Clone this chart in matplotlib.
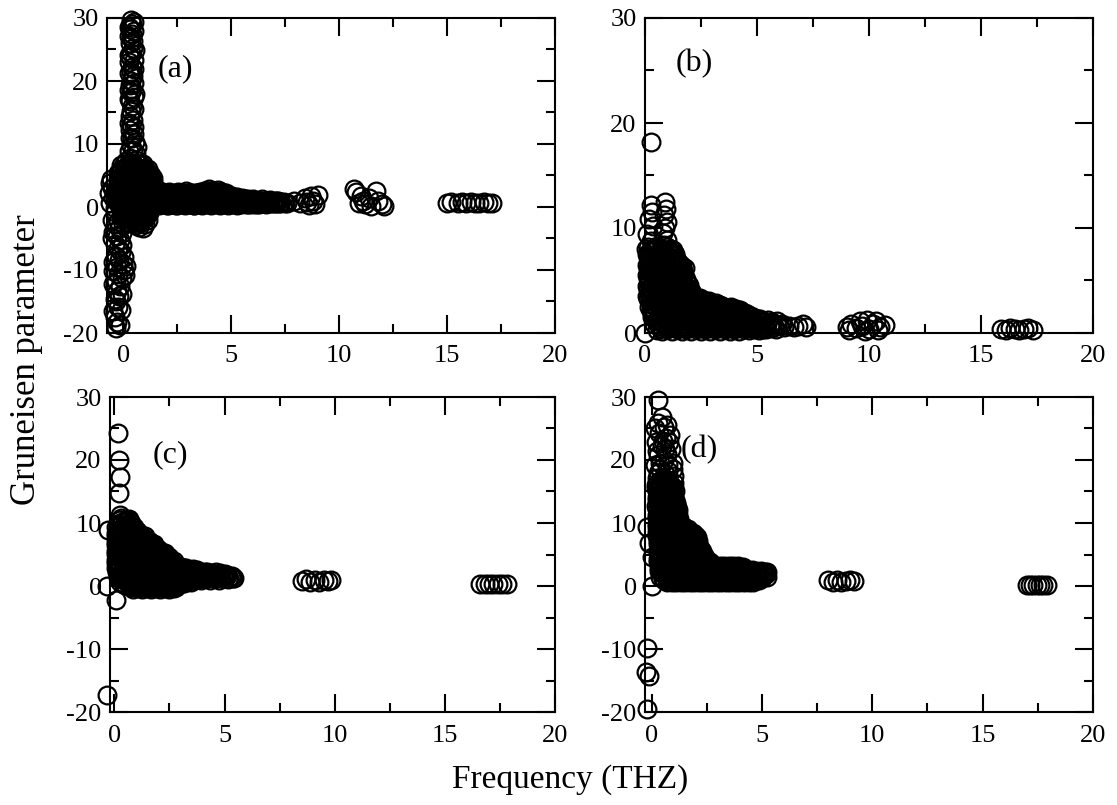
import matplotlib
matplotlib.use("Agg")
import matplotlib.pyplot as plt
from matplotlib.ticker import MultipleLocator

plt.rcParams['font.family'] = ['Liberation Serif', 'DejaVu Serif']
plt.rcParams['axes.unicode_minus'] = False

# ---------------- panel (a) ----------------
a_spike = [(0.35, 29.7), (0.40, 29.0), (0.33, 28.2), (0.42, 27.5), (0.36, 26.8), (0.30, 26.0),
           (0.44, 25.3), (0.38, 24.5), (0.32, 23.8), (0.28, 23.0), (0.40, 22.3), (0.35, 21.5),
           (0.45, 20.8), (0.38, 20.0), (0.30, 19.4), (0.42, 18.8), (0.36, 18.2), (0.48, 17.5),
           (0.33, 16.8), (0.40, 16.0), (0.36, 15.2), (0.30, 14.5), (0.44, 13.8), (0.38, 13.0),
           (0.32, 12.3), (0.50, 11.6), (0.40, 11.0), (0.55, 10.3), (0.35, 9.7), (0.45, 9.0),
           (0.60, 8.4), (0.30, 7.8),
           (0.52, 29.3), (0.28, 28.6), (0.50, 27.9), (0.26, 27.1), (0.47, 26.3), (0.55, 24.9),
           (0.25, 24.1), (0.48, 23.3), (0.52, 21.9), (0.27, 21.2), (0.50, 19.7), (0.26, 18.5),
           (0.55, 17.9), (0.28, 17.1), (0.50, 15.6), (0.27, 13.4), (0.52, 12.7), (0.30, 10.9),
           (0.62, 9.5), (0.28, 8.9)]
a_neg = [(-0.35, -19.2), (-0.30, -18.3), (-0.40, -17.5), (-0.25, -15.8), (-0.35, -15.0),
         (-0.20, -14.2), (-0.30, -13.3), (-0.15, -12.6), (-0.35, -11.8), (-0.05, -11.2),
         (-0.25, -10.6), (0.05, -10.0), (-0.30, -9.5), (0.00, -9.0), (-0.20, -8.4),
         (-0.35, -7.8), (-0.10, -7.2), (-0.25, -6.5), (-0.40, -5.9), (-0.15, -5.3),
         (-0.30, -4.6), (-0.45, -4.0), (-0.20, -3.4), (-0.35, -2.7), (-0.50, -2.0),
         (-0.10, -1.5), (-0.40, -0.8),
         (-0.15, -18.8), (-0.45, -16.5), (-0.10, -16.4), (-0.40, -14.6), (-0.05, -13.8),
         (-0.45, -12.2), (0.10, -10.8), (-0.45, -10.1), (0.12, -9.3), (-0.45, -8.8),
         (0.05, -8.0), (-0.05, -6.0), (-0.50, -5.0), (-0.05, -4.1), (0.00, -2.8),
         (-0.25, -2.2)]
a_left = [(-0.60, 3.8), (-0.50, 3.0), (-0.65, 2.2), (-0.45, 1.4), (-0.60, 0.6),
          (-0.40, -0.2), (-0.55, 4.4), (-0.30, 2.6), (-0.35, 0.9)]
a_body = [(0.12, 7.3), (0.34, 7.0), (0.58, 7.4), (0.79, 6.9),
          (-0.08, 6.6), (0.15, 6.3), (0.37, 6.7), (0.61, 6.4), (0.83, 6.6), (1.02, 6.2),
          (-0.17, 5.7), (0.04, 6.0), (0.27, 5.6), (0.48, 5.9), (0.71, 5.7), (0.93, 5.9),
          (1.12, 5.5),
          (-0.21, 5.2), (0.01, 4.9), (0.22, 5.3), (0.45, 5.0), (0.66, 5.2), (0.88, 4.9),
          (1.09, 5.3), (1.28, 5.0),
          (-0.26, 4.5), (-0.05, 4.2), (0.17, 4.6), (0.39, 4.3), (0.60, 4.5), (0.82, 4.2),
          (1.03, 4.6), (1.24, 4.3),
          (-0.22, 3.6), (0.00, 3.9), (0.21, 3.5), (0.43, 3.8), (0.64, 3.6), (0.86, 3.9),
          (1.07, 3.5), (1.29, 3.8), (1.45, 3.4),
          (-0.27, 3.1), (-0.06, 2.8), (0.16, 3.2), (0.38, 2.9), (0.59, 3.1), (0.80, 2.8),
          (1.01, 3.2), (1.22, 2.9), (1.42, 3.1),
          (-0.24, 2.2), (-0.02, 2.5), (0.19, 2.1), (0.41, 2.4), (0.62, 2.2), (0.84, 2.5),
          (1.05, 2.1), (1.27, 2.4), (1.47, 2.2),
          (-0.28, 1.7), (-0.07, 1.4), (0.14, 1.8), (0.36, 1.5), (0.57, 1.7), (0.78, 1.4),
          (0.99, 1.8), (1.21, 1.5), (1.41, 1.7),
          (-0.23, 0.8), (-0.01, 1.1), (0.20, 0.7), (0.42, 1.0), (0.63, 0.8), (0.85, 1.1),
          (1.06, 0.7), (1.28, 1.0),
          (-0.18, 0.3), (0.04, 0.0), (0.25, 0.4), (0.47, 0.1), (0.68, 0.3), (0.90, 0.0),
          (1.11, 0.4), (1.32, 0.1),
          (-0.12, -0.4), (0.09, -0.7), (0.31, -0.3), (0.52, -0.6), (0.74, -0.4), (0.95, -0.7),
          (1.17, -0.3),
          (-0.05, -1.1), (0.17, -1.4), (0.38, -1.0), (0.60, -1.3), (0.81, -1.1), (1.03, -1.4),
          (1.21, -1.0),
          (0.10, -1.8), (0.32, -2.1), (0.53, -1.7), (0.75, -2.0), (0.96, -1.8), (1.15, -2.1),
          (0.36, -2.5), (0.58, -2.8), (0.80, -2.5), (1.00, -2.7),
          (0.72, -3.1), (0.90, -3.3)]
a_body_fill = [(0.02, 6.9), (0.24, 6.8), (0.47, 7.0), (0.69, 6.8), (0.90, 6.9),
               (-0.12, 6.1), (0.10, 6.2), (0.31, 6.0), (0.54, 6.2), (0.76, 6.0), (0.98, 6.1),
               (1.15, 6.0),
               (-0.22, 5.4), (0.12, 5.5), (0.35, 5.3), (0.57, 5.5), (0.79, 5.3), (1.00, 5.5),
               (1.20, 5.3),
               (-0.10, 4.8), (0.11, 4.6), (0.33, 4.8), (0.55, 4.6), (0.77, 4.8), (0.98, 4.6),
               (1.19, 4.8), (1.36, 4.6),
               (-0.15, 4.0), (0.07, 3.9), (0.29, 4.1), (0.51, 3.9), (0.73, 4.1), (0.94, 3.9),
               (1.15, 4.1), (1.36, 4.0),
               (-0.12, 3.4), (0.10, 3.3), (0.32, 3.5), (0.54, 3.3), (0.76, 3.4), (0.97, 3.2),
               (1.18, 3.4), (1.38, 3.3),
               (-0.16, 2.7), (0.06, 2.6), (0.28, 2.8), (0.50, 2.6), (0.72, 2.7), (0.93, 2.6),
               (1.15, 2.7), (1.36, 2.6),
               (-0.13, 2.0), (0.09, 1.9), (0.30, 2.0), (0.52, 1.9), (0.73, 2.1), (0.95, 1.9),
               (1.16, 2.0), (1.37, 1.9),
               (-0.17, 1.3), (0.04, 1.2), (0.26, 1.3), (0.47, 1.2), (0.69, 1.4), (0.90, 1.2),
               (1.12, 1.3), (1.33, 1.2),
               (-0.08, 0.6), (0.14, 0.5), (0.35, 0.6), (0.57, 0.5), (0.78, 0.6), (1.00, 0.5),
               (1.21, 0.6),
               (-0.02, -0.1), (0.20, -0.2), (0.41, -0.1), (0.63, -0.2), (0.84, -0.1),
               (1.06, -0.2), (1.25, -0.1),
               (0.05, -0.9), (0.26, -0.8), (0.48, -0.9), (0.69, -0.8), (0.91, -0.9), (1.10, -0.8),
               (0.22, -1.6), (0.44, -1.5), (0.65, -1.6), (0.87, -1.5), (1.07, -1.6),
               (0.45, -2.3), (0.67, -2.2), (0.88, -2.3)]
a_band = [(1.52, 2.3), (1.71, 2.5), (1.92, 2.2), (2.11, 2.4), (2.33, 2.1), (2.52, 2.4),
          (2.74, 2.2), (2.93, 2.5), (3.15, 2.3), (3.34, 2.1), (3.56, 2.4), (3.75, 2.6),
          (3.96, 2.8), (4.15, 2.6), (4.37, 2.7), (4.56, 2.4), (4.78, 2.2),
          (1.58, 1.7), (1.79, 1.5), (1.98, 1.8), (2.20, 1.6), (2.39, 1.9), (2.61, 1.6),
          (2.80, 1.8), (3.02, 1.5), (3.21, 1.8), (3.43, 1.6), (3.62, 1.9), (3.84, 1.7),
          (4.03, 2.0), (4.25, 1.8), (4.44, 1.9), (4.66, 1.6), (4.85, 1.8), (5.07, 1.5),
          (5.26, 1.6), (5.48, 1.4),
          (1.50, 1.0), (1.70, 1.2), (1.91, 0.9), (2.12, 1.1), (2.31, 0.9), (2.53, 1.2),
          (2.72, 1.0), (2.94, 1.2), (3.13, 0.9), (3.35, 1.1), (3.54, 1.3), (3.76, 1.0),
          (3.95, 1.2), (4.17, 1.1), (4.36, 1.3), (4.58, 1.0), (4.77, 1.2), (4.99, 0.9),
          (5.18, 1.1), (5.40, 1.0), (5.59, 1.2), (5.81, 0.9), (6.00, 1.1), (6.22, 1.0),
          (6.41, 1.2), (6.63, 1.0), (6.82, 1.1), (7.04, 1.0),
          (1.62, 0.4), (1.83, 0.6), (2.03, 0.3), (2.24, 0.5), (2.45, 0.3), (2.65, 0.6),
          (2.86, 0.4), (3.07, 0.5), (3.28, 0.3), (3.48, 0.6), (3.69, 0.4), (3.90, 0.6),
          (4.11, 0.5), (4.31, 0.7), (4.52, 0.4), (4.73, 0.6), (4.94, 0.5), (5.14, 0.7),
          (5.35, 0.5), (5.56, 0.6), (5.77, 0.4), (5.97, 0.6), (6.18, 0.5), (6.39, 0.7),
          (6.60, 0.5), (6.80, 0.6), (7.01, 0.7), (7.22, 0.6), (7.43, 0.8), (7.60, 0.7)]
a_band_fill = [(1.62, 2.0), (1.82, 2.1), (2.02, 1.9), (2.22, 2.1), (2.42, 2.0), (2.62, 2.1),
               (2.82, 1.9), (3.02, 2.1), (3.22, 2.0), (3.42, 2.2), (3.62, 2.1), (3.82, 2.3),
               (4.02, 2.2), (4.22, 2.3), (4.42, 2.1), (4.62, 2.0), (4.82, 1.9), (5.02, 1.8),
               (1.60, 1.4), (1.80, 1.3), (2.00, 1.4), (2.20, 1.3), (2.40, 1.4), (2.60, 1.3),
               (2.80, 1.4), (3.00, 1.3), (3.20, 1.4), (3.40, 1.3), (3.60, 1.5), (3.80, 1.4),
               (4.00, 1.5), (4.20, 1.4), (4.40, 1.5), (4.60, 1.4), (4.80, 1.4), (5.00, 1.3),
               (5.20, 1.3), (5.40, 1.3), (5.60, 1.2), (5.80, 1.2), (6.00, 1.3),
               (1.72, 0.8), (1.92, 0.7), (2.12, 0.8), (2.32, 0.7), (2.52, 0.8), (2.72, 0.7),
               (2.92, 0.8), (3.12, 0.7), (3.32, 0.8), (3.52, 0.7), (3.72, 0.8), (3.92, 0.9),
               (4.12, 0.8), (4.32, 0.9), (4.52, 0.8), (4.72, 0.9), (4.92, 0.8), (5.12, 0.9),
               (5.32, 0.8), (5.52, 0.9), (5.72, 0.8), (5.92, 0.9), (6.12, 0.8), (6.32, 0.9),
               (6.52, 0.8), (6.72, 0.9), (6.92, 0.8), (7.12, 0.9), (7.32, 0.8),
               (1.57, 2.2), (1.77, 2.3), (1.97, 2.1), (2.17, 2.3), (2.37, 2.2), (2.57, 2.3),
               (2.77, 2.1), (2.97, 2.3), (3.17, 2.2), (3.37, 2.3), (3.57, 2.2), (3.77, 2.4),
               (3.97, 2.5), (4.17, 2.4), (4.37, 2.4), (4.57, 2.2),
               (1.66, 1.6), (1.86, 1.5), (2.06, 1.6), (2.26, 1.5), (2.46, 1.6), (2.66, 1.5),
               (2.86, 1.6), (3.06, 1.5), (3.26, 1.6), (3.46, 1.5), (3.66, 1.7), (3.86, 1.6),
               (4.06, 1.7), (4.26, 1.6), (4.46, 1.7), (4.66, 1.5), (4.86, 1.6), (5.06, 1.4),
               (5.26, 1.4), (5.46, 1.3), (5.66, 1.3),
               (1.55, 0.9), (1.76, 0.8), (1.96, 0.9), (2.16, 0.8), (2.36, 0.9), (2.56, 0.8),
               (2.76, 0.9), (2.96, 0.8), (3.16, 0.9), (3.36, 0.8), (3.56, 0.9), (3.76, 0.8),
               (3.96, 0.9), (4.16, 0.8), (4.36, 0.9), (4.56, 0.8), (4.76, 0.9), (4.96, 0.8),
               (5.16, 0.9), (5.36, 0.8), (5.56, 0.9), (5.76, 0.8), (5.96, 0.9), (6.16, 0.8),
               (6.36, 0.9), (6.56, 0.8), (6.76, 0.9), (6.96, 0.8), (7.16, 0.9),
               (1.67, 0.3), (1.87, 0.4), (2.07, 0.3), (2.27, 0.4), (2.47, 0.3), (2.67, 0.4),
               (2.87, 0.3), (3.07, 0.4), (3.27, 0.3), (3.47, 0.4), (3.67, 0.3), (3.87, 0.4),
               (4.07, 0.3), (4.27, 0.4), (4.47, 0.3), (4.67, 0.4), (4.87, 0.3), (5.07, 0.4),
               (5.27, 0.3), (5.47, 0.4), (5.67, 0.5), (5.87, 0.4), (6.07, 0.5), (6.27, 0.5),
               (6.47, 0.6), (6.67, 0.6), (6.87, 0.6), (7.07, 0.6), (7.27, 0.7), (7.50, 0.7)]
a_high = [(7.9, 1.0), (8.2, 0.6), (8.4, 1.4), (8.6, 0.3), (8.7, 1.8), (8.8, 0.9), (9.0, 1.9),
          (8.5, 0.8), (8.9, 0.4),
          (10.7, 2.9), (10.8, 2.4), (11.0, 1.8), (11.1, 0.9), (11.2, 0.4), (11.4, 1.4),
          (11.5, 0.2), (11.7, 2.6), (11.8, 1.0), (12.0, 0.4), (12.1, 0.1), (10.9, 0.6),
          (15.0, 0.7), (15.2, 0.8), (15.5, 0.7), (15.7, 0.8), (15.9, 0.7), (16.1, 0.8),
          (16.3, 0.7), (16.5, 0.7), (16.7, 0.8), (16.9, 0.7), (17.1, 0.7)]

# ---------------- panel (b) ----------------
b_spike = [(0.25, 18.2), (0.0, 0.0),
           (0.25, 12.2), (0.30, 11.5), (0.20, 10.9), (0.35, 10.2), (0.10, 9.4), (0.25, 8.8),
           (0.05, 8.0), (0.90, 12.5), (0.95, 11.8), (0.85, 11.2), (1.00, 10.6), (0.90, 10.0),
           (0.80, 9.5), (1.00, 8.9), (0.85, 8.4), (1.70, 5.9)]
b_body = [(0.12, 8.2), (0.33, 8.0), (0.55, 8.3), (0.76, 8.0), (0.98, 8.2), (1.18, 8.0),
          (0.08, 7.5), (0.29, 7.7), (0.51, 7.5), (0.72, 7.7), (0.94, 7.5), (1.15, 7.7),
          (1.33, 7.5),
          (0.13, 7.2), (0.35, 7.0), (0.56, 7.2), (0.78, 7.0), (0.99, 7.2), (1.21, 7.0),
          (1.40, 7.1),
          (0.07, 6.5), (0.28, 6.7), (0.50, 6.5), (0.71, 6.7), (0.93, 6.5), (1.14, 6.7),
          (1.36, 6.5), (1.55, 6.6),
          (0.12, 6.2), (0.34, 6.0), (0.55, 6.2), (0.77, 6.0), (0.98, 6.2), (1.20, 6.0),
          (1.41, 6.2), (1.62, 6.0), (1.78, 6.2),
          (0.08, 5.5), (0.29, 5.7), (0.51, 5.5), (0.72, 5.7), (0.94, 5.5), (1.15, 5.7),
          (1.37, 5.5), (1.58, 5.7), (1.75, 5.5),
          (0.13, 5.2), (0.35, 5.0), (0.56, 5.2), (0.78, 5.0), (0.99, 5.2), (1.21, 5.0),
          (1.42, 5.2), (1.63, 5.0), (1.82, 5.1),
          (0.09, 4.5), (0.30, 4.7), (0.52, 4.5), (0.73, 4.7), (0.95, 4.5), (1.16, 4.7),
          (1.38, 4.5), (1.59, 4.7), (1.80, 4.5), (1.96, 4.6),
          (0.14, 4.2), (0.36, 4.0), (0.57, 4.2), (0.79, 4.0), (1.00, 4.2), (1.22, 4.0),
          (1.43, 4.2), (1.65, 4.0), (1.86, 4.2), (2.05, 4.0),
          (0.10, 3.5), (0.31, 3.7), (0.53, 3.5), (0.74, 3.7), (0.96, 3.5), (1.17, 3.7),
          (1.39, 3.5), (1.60, 3.7), (1.82, 3.5), (2.03, 3.7), (2.24, 3.4), (2.45, 3.3),
          (0.15, 3.2), (0.37, 3.0), (0.58, 3.2), (0.80, 3.0), (1.01, 3.2), (1.23, 3.0),
          (1.44, 3.2), (1.66, 3.0), (1.87, 3.2), (2.09, 3.0), (2.30, 3.1), (2.52, 2.9),
          (2.73, 3.0), (2.95, 2.8), (3.15, 2.9), (3.35, 2.7),
          (0.20, 2.5), (0.41, 2.7), (0.63, 2.5), (0.84, 2.7), (1.06, 2.5), (1.27, 2.7),
          (1.49, 2.5), (1.70, 2.7), (1.92, 2.5), (2.13, 2.7), (2.35, 2.5), (2.56, 2.6),
          (2.78, 2.4), (2.99, 2.6), (3.21, 2.4), (3.42, 2.6), (3.64, 2.4), (3.85, 2.5),
          (4.05, 2.3), (4.25, 2.2),
          (0.25, 2.1), (0.46, 1.9), (0.68, 2.1), (0.89, 1.9), (1.11, 2.1), (1.32, 1.9),
          (1.54, 2.1), (1.75, 1.9), (1.97, 2.1), (2.18, 1.9), (2.40, 2.1), (2.61, 1.9),
          (2.83, 2.0), (3.04, 1.8), (3.26, 2.0), (3.47, 1.8), (3.69, 2.0), (3.90, 1.8),
          (4.12, 1.9), (4.33, 1.7), (4.55, 1.8), (4.75, 1.6),
          (0.32, 1.5), (0.53, 1.3), (0.75, 1.5), (0.96, 1.3), (1.18, 1.5), (1.39, 1.3),
          (1.61, 1.5), (1.82, 1.3), (2.04, 1.5), (2.25, 1.3), (2.47, 1.5), (2.68, 1.3),
          (2.90, 1.4), (3.11, 1.2), (3.33, 1.4), (3.54, 1.2), (3.76, 1.4), (3.97, 1.2),
          (4.19, 1.4), (4.40, 1.2), (4.62, 1.3), (4.83, 1.1), (5.05, 1.3), (5.26, 1.1),
          (5.48, 1.2), (5.69, 1.0), (5.90, 1.1),
          (0.40, 0.9), (0.61, 0.7), (0.83, 0.9), (1.04, 0.7), (1.26, 0.9), (1.47, 0.7),
          (1.69, 0.9), (1.90, 0.7), (2.12, 0.9), (2.33, 0.7), (2.55, 0.9), (2.76, 0.7),
          (2.98, 0.9), (3.19, 0.7), (3.41, 0.9), (3.62, 0.7), (3.84, 0.9), (4.05, 0.7),
          (4.27, 0.9), (4.48, 0.7), (4.70, 0.9), (4.91, 0.7), (5.13, 0.8), (5.34, 0.6),
          (5.56, 0.8), (5.77, 0.6), (5.99, 0.8), (6.20, 0.6), (6.42, 0.7), (6.63, 0.6),
          (6.85, 0.7), (7.05, 0.9), (7.20, 0.6),
          (0.55, 0.3), (0.77, 0.2), (0.98, 0.4), (1.20, 0.2), (1.41, 0.4), (1.63, 0.2),
          (1.84, 0.4), (2.06, 0.2), (2.27, 0.4), (2.49, 0.2), (2.70, 0.4), (2.92, 0.2),
          (3.13, 0.4), (3.35, 0.2), (3.56, 0.4), (3.78, 0.2), (3.99, 0.4), (4.21, 0.2),
          (4.42, 0.4), (4.64, 0.3), (4.85, 0.4), (5.07, 0.3), (5.28, 0.4)]
b_body_fill = [(0.22, 7.8), (0.44, 7.9), (0.65, 7.8), (0.87, 7.9), (1.08, 7.8), (1.26, 7.9),
               (0.18, 7.3), (0.40, 7.4), (0.61, 7.3), (0.83, 7.4), (1.04, 7.3), (1.25, 7.4),
               (0.20, 6.8), (0.42, 6.9), (0.63, 6.8), (0.85, 6.9), (1.06, 6.8), (1.27, 6.9),
               (1.47, 6.8),
               (0.18, 6.3), (0.40, 6.4), (0.61, 6.3), (0.83, 6.4), (1.04, 6.3), (1.25, 6.4),
               (1.47, 6.3), (1.66, 6.4),
               (0.20, 5.8), (0.42, 5.9), (0.63, 5.8), (0.85, 5.9), (1.06, 5.8), (1.27, 5.9),
               (1.49, 5.8), (1.68, 5.9),
               (0.18, 5.3), (0.40, 5.4), (0.61, 5.3), (0.83, 5.4), (1.04, 5.3), (1.25, 5.4),
               (1.47, 5.3), (1.68, 5.4),
               (0.20, 4.8), (0.42, 4.9), (0.63, 4.8), (0.85, 4.9), (1.06, 4.8), (1.27, 4.9),
               (1.49, 4.8), (1.70, 4.9), (1.88, 4.8),
               (0.22, 4.3), (0.44, 4.4), (0.65, 4.3), (0.87, 4.4), (1.08, 4.3), (1.29, 4.4),
               (1.51, 4.3), (1.72, 4.4), (1.93, 4.3),
               (0.20, 3.8), (0.42, 3.9), (0.63, 3.8), (0.85, 3.9), (1.06, 3.8), (1.27, 3.9),
               (1.49, 3.8), (1.70, 3.9), (1.92, 3.8), (2.12, 3.8),
               (0.22, 3.3), (0.44, 3.4), (0.65, 3.3), (0.87, 3.4), (1.08, 3.3), (1.29, 3.4),
               (1.51, 3.3), (1.72, 3.4), (1.94, 3.3), (2.15, 3.4), (2.36, 3.2), (2.60, 3.1),
               (2.85, 3.0),
               (0.27, 2.8), (0.49, 2.9), (0.70, 2.8), (0.92, 2.9), (1.13, 2.8), (1.34, 2.9),
               (1.56, 2.8), (1.77, 2.9), (1.99, 2.8), (2.20, 2.9), (2.42, 2.7), (2.63, 2.8),
               (2.85, 2.6), (3.06, 2.7), (3.28, 2.5), (3.50, 2.5), (3.75, 2.4),
               (0.33, 2.3), (0.54, 2.2), (0.76, 2.3), (0.97, 2.2), (1.19, 2.3), (1.40, 2.2),
               (1.62, 2.3), (1.83, 2.2), (2.05, 2.3), (2.26, 2.2), (2.48, 2.3), (2.69, 2.2),
               (2.91, 2.2), (3.12, 2.1), (3.34, 2.2), (3.55, 2.1), (3.77, 2.1), (3.98, 2.0),
               (4.20, 2.0), (4.45, 1.9),
               (0.40, 1.7), (0.61, 1.6), (0.83, 1.7), (1.04, 1.6), (1.26, 1.7), (1.47, 1.6),
               (1.69, 1.7), (1.90, 1.6), (2.12, 1.7), (2.33, 1.6), (2.55, 1.7), (2.76, 1.6),
               (2.98, 1.6), (3.19, 1.5), (3.41, 1.6), (3.62, 1.5), (3.84, 1.6), (4.05, 1.5),
               (4.27, 1.5), (4.48, 1.4), (4.70, 1.5), (4.92, 1.4), (5.15, 1.3),
               (0.50, 1.1), (0.72, 1.0), (0.93, 1.1), (1.15, 1.0), (1.36, 1.1), (1.58, 1.0),
               (1.79, 1.1), (2.01, 1.0), (2.22, 1.1), (2.44, 1.0), (2.65, 1.1), (2.87, 1.0),
               (3.08, 1.1), (3.30, 1.0), (3.51, 1.1), (3.73, 1.0), (3.94, 1.0), (4.16, 0.9),
               (4.37, 1.0), (4.59, 0.9), (4.80, 1.0), (5.02, 0.9), (5.23, 1.0), (5.45, 0.9),
               (5.66, 0.9), (5.88, 0.8), (6.10, 0.9),
               (0.66, 0.5), (0.88, 0.6), (1.09, 0.5), (1.31, 0.6), (1.52, 0.5), (1.74, 0.6),
               (1.95, 0.5), (2.17, 0.6), (2.38, 0.5), (2.60, 0.6), (2.81, 0.5), (3.03, 0.6),
               (3.24, 0.5), (3.46, 0.6), (3.67, 0.5), (3.89, 0.6), (4.10, 0.5), (4.32, 0.6),
               (4.53, 0.5), (4.75, 0.6), (4.96, 0.5), (5.18, 0.5), (5.40, 0.4), (5.62, 0.5),
               (5.85, 0.4)]
b_high = [(9.0, 0.6), (9.2, 0.9), (9.4, 0.5), (9.6, 1.1), (9.7, 0.7), (9.9, 1.2), (10.0, 0.4),
          (10.2, 0.9), (10.3, 1.1), (10.5, 0.6), (10.7, 0.8), (9.1, 0.3), (9.8, 0.2),
          (10.4, 0.3),
          (15.9, 0.4), (16.1, 0.3), (16.3, 0.5), (16.5, 0.4), (16.7, 0.3), (16.9, 0.4),
          (17.1, 0.5), (17.3, 0.3)]

# ---------------- panel (c) ----------------
c_spike = [(0.15, 24.3), (0.20, 20.0), (0.25, 17.3), (0.20, 14.8), (0.25, 11.3),
           (-0.30, 8.9), (-0.35, 0.0), (0.05, -2.2), (-0.35, -17.3)]
c_body = [(0.32, 10.8), (0.52, 10.5), (0.68, 10.7),
          (0.15, 9.9), (0.36, 10.1), (0.57, 9.8), (0.77, 10.0),
          (0.08, 9.3), (0.28, 9.1), (0.49, 9.4), (0.70, 9.1), (0.90, 9.3),
          (0.06, 8.4), (0.26, 8.6), (0.47, 8.4), (0.67, 8.6), (0.88, 8.4), (1.08, 8.5),
          (0.05, 7.9), (0.25, 7.7), (0.46, 7.9), (0.66, 7.7), (0.87, 7.9), (1.07, 7.7),
          (1.28, 7.8), (1.47, 7.3),
          (0.07, 7.0), (0.27, 7.2), (0.48, 7.0), (0.68, 7.2), (0.89, 7.0), (1.09, 7.2),
          (1.30, 7.0), (1.50, 7.1), (1.68, 6.8),
          (0.05, 6.5), (0.25, 6.3), (0.46, 6.5), (0.66, 6.3), (0.87, 6.5), (1.07, 6.3),
          (1.28, 6.5), (1.48, 6.3), (1.69, 6.4), (1.88, 6.1),
          (0.07, 5.6), (0.27, 5.8), (0.48, 5.6), (0.68, 5.8), (0.89, 5.6), (1.09, 5.8),
          (1.30, 5.6), (1.50, 5.8), (1.71, 5.6), (1.91, 5.7), (2.10, 5.4), (2.30, 5.3),
          (0.05, 5.1), (0.25, 4.9), (0.46, 5.1), (0.66, 4.9), (0.87, 5.1), (1.07, 4.9),
          (1.28, 5.1), (1.48, 4.9), (1.69, 5.1), (1.89, 4.9), (2.10, 5.0), (2.30, 4.8),
          (2.48, 4.6),
          (0.07, 4.2), (0.27, 4.4), (0.48, 4.2), (0.68, 4.4), (0.89, 4.2), (1.09, 4.4),
          (1.30, 4.2), (1.50, 4.4), (1.71, 4.2), (1.91, 4.4), (2.12, 4.2), (2.32, 4.3),
          (2.53, 4.1), (2.70, 3.9),
          (0.05, 3.7), (0.25, 3.5), (0.46, 3.7), (0.66, 3.5), (0.87, 3.7), (1.07, 3.5),
          (1.28, 3.7), (1.48, 3.5), (1.69, 3.7), (1.89, 3.5), (2.10, 3.7), (2.30, 3.5),
          (2.51, 3.6), (2.71, 3.4), (2.90, 3.2),
          (0.07, 2.8), (0.27, 3.0), (0.48, 2.8), (0.68, 3.0), (0.89, 2.8), (1.09, 3.0),
          (1.30, 2.8), (1.50, 3.0), (1.71, 2.8), (1.91, 3.0), (2.12, 2.8), (2.32, 3.0),
          (2.53, 2.8), (2.73, 2.9), (2.94, 2.7), (3.14, 2.8), (3.35, 2.6), (3.55, 2.7),
          (3.76, 2.5),
          (0.10, 2.3), (0.30, 2.1), (0.51, 2.3), (0.71, 2.1), (0.92, 2.3), (1.12, 2.1),
          (1.33, 2.3), (1.53, 2.1), (1.74, 2.3), (1.94, 2.1), (2.15, 2.3), (2.35, 2.1),
          (2.56, 2.3), (2.76, 2.1), (2.97, 2.2), (3.17, 2.0), (3.38, 2.2), (3.58, 2.0),
          (3.79, 2.2), (3.99, 2.0), (4.20, 2.2), (4.40, 2.0), (4.61, 2.2), (4.81, 2.0),
          (5.02, 1.9),
          (0.15, 1.4), (0.35, 1.6), (0.56, 1.4), (0.76, 1.6), (0.97, 1.4), (1.17, 1.6),
          (1.38, 1.4), (1.58, 1.6), (1.79, 1.4), (1.99, 1.6), (2.20, 1.4), (2.40, 1.6),
          (2.61, 1.4), (2.81, 1.6), (3.02, 1.4), (3.22, 1.6), (3.43, 1.4), (3.63, 1.6),
          (3.84, 1.4), (4.04, 1.6), (4.25, 1.4), (4.45, 1.6), (4.66, 1.4), (4.86, 1.6),
          (5.07, 1.4), (5.27, 1.5), (5.42, 1.3),
          (0.25, 0.7), (0.45, 0.9), (0.66, 0.7), (0.86, 0.9), (1.07, 0.7), (1.27, 0.9),
          (1.48, 0.7), (1.68, 0.9), (1.89, 0.7), (2.09, 0.9), (2.30, 0.7), (2.50, 0.9),
          (2.71, 0.7), (2.91, 0.9), (3.12, 0.8), (3.32, 1.0), (3.53, 0.9), (3.73, 1.1),
          (3.94, 1.0), (4.14, 1.2), (4.35, 1.0), (4.55, 1.2), (4.76, 1.0), (4.96, 1.2),
          (5.17, 1.1), (5.37, 1.2),
          (0.50, 0.1), (0.71, 0.2), (0.91, 0.0), (1.12, 0.2), (1.32, 0.0), (1.53, 0.2),
          (1.73, 0.0), (1.94, 0.2), (2.14, 0.0), (2.35, 0.2), (2.55, 0.0), (2.76, 0.2),
          (2.96, 0.3), (3.17, 0.4),
          (0.85, -0.4), (1.06, -0.3), (1.26, -0.5), (1.47, -0.3), (1.67, -0.5), (1.88, -0.3),
          (2.08, -0.4), (2.29, -0.3), (2.50, -0.5), (2.70, -0.3)]
c_body_fill = [(0.25, 10.4), (0.46, 10.3), (0.66, 10.4),
               (0.18, 9.6), (0.39, 9.5), (0.60, 9.6), (0.80, 9.5),
               (0.16, 8.9), (0.37, 8.8), (0.58, 8.9), (0.78, 8.8), (0.98, 8.9),
               (0.15, 8.2), (0.36, 8.1), (0.56, 8.2), (0.77, 8.1), (0.97, 8.2), (1.17, 8.1),
               (1.37, 8.0),
               (0.16, 7.5), (0.37, 7.4), (0.57, 7.5), (0.78, 7.4), (0.98, 7.5), (1.19, 7.4),
               (1.39, 7.5), (1.58, 7.2),
               (0.15, 6.8), (0.36, 6.7), (0.56, 6.8), (0.77, 6.7), (0.97, 6.8), (1.18, 6.7),
               (1.38, 6.8), (1.59, 6.7), (1.79, 6.6),
               (0.16, 6.1), (0.37, 6.0), (0.57, 6.1), (0.78, 6.0), (0.98, 6.1), (1.19, 6.0),
               (1.39, 6.1), (1.60, 6.0), (1.80, 6.1), (2.00, 5.9),
               (0.15, 5.4), (0.36, 5.3), (0.56, 5.4), (0.77, 5.3), (0.97, 5.4), (1.18, 5.3),
               (1.38, 5.4), (1.59, 5.3), (1.79, 5.4), (2.00, 5.3), (2.20, 5.2),
               (0.16, 4.7), (0.37, 4.6), (0.57, 4.7), (0.78, 4.6), (0.98, 4.7), (1.19, 4.6),
               (1.39, 4.7), (1.60, 4.6), (1.80, 4.7), (2.01, 4.6), (2.21, 4.6), (2.40, 4.4),
               (0.15, 4.0), (0.36, 3.9), (0.56, 4.0), (0.77, 3.9), (0.97, 4.0), (1.18, 3.9),
               (1.38, 4.0), (1.59, 3.9), (1.79, 4.0), (2.00, 3.9), (2.20, 4.0), (2.41, 3.9),
               (2.61, 3.8),
               (0.16, 3.3), (0.37, 3.2), (0.57, 3.3), (0.78, 3.2), (0.98, 3.3), (1.19, 3.2),
               (1.39, 3.3), (1.60, 3.2), (1.80, 3.3), (2.01, 3.2), (2.21, 3.3), (2.42, 3.2),
               (2.62, 3.2), (2.83, 3.1), (3.03, 3.0), (3.25, 2.9),
               (0.18, 2.6), (0.39, 2.5), (0.59, 2.6), (0.80, 2.5), (1.00, 2.6), (1.21, 2.5),
               (1.41, 2.6), (1.62, 2.5), (1.82, 2.6), (2.03, 2.5), (2.23, 2.6), (2.44, 2.5),
               (2.64, 2.6), (2.85, 2.5), (3.05, 2.5), (3.26, 2.4), (3.46, 2.4), (3.67, 2.3),
               (3.88, 2.3), (4.10, 2.2), (4.35, 2.1),
               (0.20, 1.9), (0.41, 1.8), (0.61, 1.9), (0.82, 1.8), (1.02, 1.9), (1.23, 1.8),
               (1.43, 1.9), (1.64, 1.8), (1.84, 1.9), (2.05, 1.8), (2.25, 1.9), (2.46, 1.8),
               (2.66, 1.9), (2.87, 1.8), (3.07, 1.8), (3.28, 1.7), (3.48, 1.8), (3.69, 1.7),
               (3.89, 1.8), (4.10, 1.7), (4.30, 1.8), (4.51, 1.7), (4.71, 1.8), (4.92, 1.7),
               (5.12, 1.7), (5.32, 1.6),
               (0.30, 1.1), (0.51, 1.0), (0.71, 1.1), (0.92, 1.0), (1.12, 1.1), (1.33, 1.0),
               (1.53, 1.1), (1.74, 1.0), (1.94, 1.1), (2.15, 1.0), (2.35, 1.1), (2.56, 1.0),
               (2.76, 1.1), (2.97, 1.0), (3.17, 1.2), (3.38, 1.1), (3.58, 1.3), (3.79, 1.2),
               (3.99, 1.3), (4.20, 1.3), (4.40, 1.4), (4.61, 1.3), (4.81, 1.4), (5.02, 1.3),
               (5.22, 1.3),
               (0.40, 0.4), (0.61, 0.5), (0.81, 0.4), (1.02, 0.5), (1.22, 0.4), (1.43, 0.5),
               (1.63, 0.4), (1.84, 0.5), (2.04, 0.4), (2.25, 0.5), (2.45, 0.4), (2.66, 0.5),
               (2.86, 0.5), (3.07, 0.6), (3.27, 0.7), (3.48, 0.7),
               (0.75, -0.1), (0.96, -0.1), (1.16, -0.2), (1.37, -0.1), (1.57, -0.2),
               (1.78, -0.1), (1.98, -0.2), (2.19, -0.1), (2.40, -0.2), (2.60, -0.1),
               (2.81, -0.1)]
c_high = [(8.5, 0.8), (8.7, 1.1), (8.9, 0.6), (9.1, 0.9), (9.3, 0.7), (9.5, 1.0), (9.7, 0.8),
          (9.85, 0.9),
          (16.6, 0.3), (16.8, 0.3), (17.0, 0.3), (17.2, 0.3), (17.4, 0.3), (17.6, 0.3),
          (17.8, 0.3)]

# ---------------- panel (d) ----------------
d_spike = [(0.27, 29.5), (0.45, 26.8), (0.15, 25.0), (0.55, 25.2), (0.35, 24.3), (0.85, 24.0),
           (0.65, 23.5), (0.20, 22.8), (0.45, 22.2), (0.90, 21.8), (0.70, 21.0), (0.30, 20.8),
           (0.55, 20.0), (0.95, 19.6), (0.15, 19.2), (0.40, 18.6), (0.75, 18.2), (1.00, 17.5),
           (0.25, 17.2), (0.55, 16.6), (0.85, 16.0),
           (0.30, 25.8), (0.70, 25.5), (0.50, 23.0), (0.25, 21.5), (0.80, 22.8), (0.60, 21.8),
           (0.40, 19.6), (0.75, 19.4), (0.30, 18.0), (0.60, 17.8), (0.95, 18.5), (0.45, 17.0),
           (0.75, 16.9), (0.20, 16.0),
           (0.0, 0.0), (-0.2, 9.4), (-0.1, 6.8), (0.0, 4.6), (-0.2, -9.8), (-0.25, -13.6),
           (-0.1, -14.3), (-0.2, -19.5)]
d_body = [(0.24, 16.4), (0.44, 16.2), (0.64, 16.4), (0.84, 16.2), (1.02, 16.3),
          (0.22, 15.5), (0.42, 15.7), (0.62, 15.5), (0.82, 15.7), (1.02, 15.5),
          (0.25, 15.0), (0.45, 14.8), (0.65, 15.0), (0.85, 14.8), (1.05, 15.0),
          (0.23, 14.1), (0.43, 14.3), (0.63, 14.1), (0.83, 14.3), (1.03, 14.1),
          (0.24, 13.6), (0.44, 13.4), (0.64, 13.6), (0.84, 13.4), (1.04, 13.6),
          (0.22, 12.7), (0.42, 12.9), (0.62, 12.7), (0.82, 12.9), (1.02, 12.7), (1.15, 12.6),
          (0.25, 12.2), (0.45, 12.0), (0.65, 12.2), (0.85, 12.0), (1.05, 12.2), (1.18, 12.1),
          (0.23, 11.3), (0.43, 11.5), (0.63, 11.3), (0.83, 11.5), (1.03, 11.3), (1.20, 11.3),
          (0.24, 10.8), (0.44, 10.6), (0.64, 10.8), (0.84, 10.6), (1.04, 10.8), (1.22, 10.7),
          (0.25, 9.9), (0.45, 10.1), (0.65, 9.9), (0.85, 10.1), (1.05, 9.9), (1.25, 9.9),
          (0.25, 9.4), (0.45, 9.2), (0.66, 9.4), (0.86, 9.2), (1.07, 9.4), (1.27, 9.2),
          (1.48, 9.4), (1.65, 9.0),
          (0.26, 8.5), (0.46, 8.7), (0.67, 8.5), (0.87, 8.7), (1.08, 8.5), (1.28, 8.7),
          (1.49, 8.5), (1.69, 8.7), (1.86, 8.4),
          (0.26, 8.0), (0.46, 7.8), (0.67, 8.0), (0.87, 7.8), (1.08, 8.0), (1.28, 7.8),
          (1.49, 8.0), (1.69, 7.8), (1.90, 8.0), (2.04, 7.7),
          (0.27, 7.1), (0.47, 7.3), (0.68, 7.1), (0.88, 7.3), (1.09, 7.1), (1.29, 7.3),
          (1.50, 7.1), (1.70, 7.3), (1.91, 7.1), (2.08, 7.2),
          (0.27, 6.6), (0.47, 6.4), (0.68, 6.6), (0.88, 6.4), (1.09, 6.6), (1.29, 6.4),
          (1.50, 6.6), (1.70, 6.4), (1.91, 6.6), (2.08, 6.4),
          (0.28, 5.7), (0.48, 5.9), (0.69, 5.7), (0.89, 5.9), (1.10, 5.7), (1.30, 5.9),
          (1.51, 5.7), (1.71, 5.9), (1.92, 5.7), (2.12, 5.9), (2.27, 5.6),
          (0.29, 5.2), (0.49, 5.0), (0.70, 5.2), (0.90, 5.0), (1.11, 5.2), (1.31, 5.0),
          (1.52, 5.2), (1.72, 5.0), (1.93, 5.2), (2.13, 5.0), (2.32, 5.1),
          (0.29, 4.3), (0.49, 4.5), (0.70, 4.3), (0.90, 4.5), (1.11, 4.3), (1.31, 4.5),
          (1.52, 4.3), (1.72, 4.5), (1.93, 4.3), (2.13, 4.5), (2.34, 4.3), (2.52, 4.2),
          (0.31, 3.8), (0.51, 3.6), (0.72, 3.8), (0.92, 3.6), (1.13, 3.8), (1.33, 3.6),
          (1.54, 3.8), (1.74, 3.6), (1.95, 3.8), (2.15, 3.6), (2.36, 3.8), (2.56, 3.6),
          (2.77, 3.4),
          (0.33, 2.9), (0.53, 3.1), (0.74, 2.9), (0.94, 3.1), (1.15, 2.9), (1.35, 3.1),
          (1.56, 2.9), (1.76, 3.1), (1.97, 2.9), (2.17, 3.1), (2.38, 2.9), (2.58, 3.1),
          (2.79, 2.9), (2.99, 3.0), (3.20, 2.8), (3.40, 2.9), (3.61, 2.8), (3.81, 3.0),
          (4.02, 2.9), (4.20, 2.7),
          (0.35, 2.4), (0.55, 2.2), (0.76, 2.4), (0.96, 2.2), (1.17, 2.4), (1.37, 2.2),
          (1.58, 2.4), (1.78, 2.2), (1.99, 2.4), (2.19, 2.2), (2.40, 2.4), (2.60, 2.2),
          (2.81, 2.4), (3.01, 2.2), (3.22, 2.4), (3.42, 2.2), (3.63, 2.4), (3.83, 2.2),
          (4.04, 2.4), (4.24, 2.2), (4.45, 2.3), (4.65, 2.1), (4.86, 2.3), (5.06, 2.1),
          (5.22, 2.2),
          (0.40, 1.5), (0.60, 1.7), (0.81, 1.5), (1.01, 1.7), (1.22, 1.5), (1.42, 1.7),
          (1.63, 1.5), (1.83, 1.7), (2.04, 1.5), (2.24, 1.7), (2.45, 1.5), (2.65, 1.7),
          (2.86, 1.5), (3.06, 1.7), (3.27, 1.5), (3.47, 1.7), (3.68, 1.5), (3.88, 1.7),
          (4.09, 1.5), (4.29, 1.7), (4.50, 1.5), (4.70, 1.7), (4.91, 1.5), (5.11, 1.7),
          (5.25, 1.5),
          (0.55, 1.0), (0.75, 0.8), (0.96, 1.0), (1.16, 0.8), (1.37, 1.0), (1.57, 0.8),
          (1.78, 1.0), (1.98, 0.8), (2.19, 1.0), (2.39, 0.8), (2.60, 1.0), (2.80, 0.8),
          (3.01, 1.0), (3.21, 0.8), (3.42, 1.0), (3.62, 0.8), (3.83, 1.0), (4.03, 0.8),
          (4.24, 1.0), (4.44, 0.8), (4.65, 1.0), (4.85, 0.9)]
d_body_fill = [(0.34, 16.0), (0.54, 15.9), (0.74, 16.0), (0.94, 15.9),
               (0.32, 15.3), (0.52, 15.2), (0.72, 15.3), (0.92, 15.2),
               (0.33, 14.6), (0.53, 14.5), (0.73, 14.6), (0.93, 14.5),
               (0.34, 13.9), (0.54, 13.8), (0.74, 13.9), (0.94, 13.8),
               (0.32, 13.2), (0.52, 13.1), (0.72, 13.2), (0.92, 13.1), (1.10, 13.1),
               (0.33, 12.5), (0.53, 12.4), (0.73, 12.5), (0.93, 12.4), (1.12, 12.4),
               (0.34, 11.8), (0.54, 11.7), (0.74, 11.8), (0.94, 11.7), (1.13, 11.7),
               (0.33, 11.1), (0.53, 11.0), (0.73, 11.1), (0.93, 11.0), (1.13, 11.0),
               (0.34, 10.4), (0.54, 10.3), (0.74, 10.4), (0.94, 10.3), (1.15, 10.4),
               (0.35, 9.7), (0.55, 9.6), (0.75, 9.7), (0.95, 9.6), (1.16, 9.7), (1.37, 9.6),
               (0.36, 9.0), (0.56, 8.9), (0.76, 9.0), (0.96, 8.9), (1.17, 9.0), (1.38, 8.9),
               (1.58, 8.9),
               (0.36, 8.3), (0.57, 8.2), (0.77, 8.3), (0.98, 8.2), (1.18, 8.3), (1.39, 8.2),
               (1.59, 8.3), (1.79, 8.2), (1.97, 8.1),
               (0.37, 7.6), (0.57, 7.5), (0.78, 7.6), (0.98, 7.5), (1.19, 7.6), (1.39, 7.5),
               (1.60, 7.6), (1.80, 7.5), (2.00, 7.5),
               (0.37, 6.9), (0.57, 6.8), (0.78, 6.9), (0.98, 6.8), (1.19, 6.9), (1.39, 6.8),
               (1.60, 6.9), (1.80, 6.8), (2.01, 6.8),
               (0.38, 6.2), (0.58, 6.1), (0.79, 6.2), (0.99, 6.1), (1.20, 6.2), (1.40, 6.1),
               (1.61, 6.2), (1.81, 6.1), (2.02, 6.2), (2.20, 6.0),
               (0.39, 5.5), (0.59, 5.4), (0.80, 5.5), (1.00, 5.4), (1.21, 5.5), (1.41, 5.4),
               (1.62, 5.5), (1.82, 5.4), (2.03, 5.5), (2.23, 5.4),
               (0.39, 4.8), (0.59, 4.7), (0.80, 4.8), (1.00, 4.7), (1.21, 4.8), (1.41, 4.7),
               (1.62, 4.8), (1.82, 4.7), (2.03, 4.8), (2.23, 4.7), (2.42, 4.6),
               (0.40, 4.1), (0.60, 4.0), (0.81, 4.1), (1.01, 4.0), (1.22, 4.1), (1.42, 4.0),
               (1.63, 4.1), (1.83, 4.0), (2.04, 4.1), (2.24, 4.0), (2.45, 4.0), (2.65, 3.8),
               (0.42, 3.4), (0.62, 3.3), (0.83, 3.4), (1.03, 3.3), (1.24, 3.4), (1.44, 3.3),
               (1.65, 3.4), (1.85, 3.3), (2.06, 3.4), (2.26, 3.3), (2.47, 3.4), (2.67, 3.3),
               (2.88, 3.2), (3.08, 3.2), (3.30, 3.1), (3.50, 3.2), (3.70, 3.1), (3.92, 3.2),
               (4.12, 3.0),
               (0.44, 2.7), (0.64, 2.6), (0.85, 2.7), (1.05, 2.6), (1.26, 2.7), (1.46, 2.6),
               (1.67, 2.7), (1.87, 2.6), (2.08, 2.7), (2.28, 2.6), (2.49, 2.7), (2.69, 2.6),
               (2.90, 2.7), (3.10, 2.6), (3.31, 2.7), (3.51, 2.6), (3.72, 2.7), (3.92, 2.6),
               (4.13, 2.6), (4.33, 2.5), (4.54, 2.5), (4.74, 2.4), (4.95, 2.4), (5.15, 2.3),
               (0.47, 2.0), (0.67, 1.9), (0.88, 2.0), (1.08, 1.9), (1.29, 2.0), (1.49, 1.9),
               (1.70, 2.0), (1.90, 1.9), (2.11, 2.0), (2.31, 1.9), (2.52, 2.0), (2.72, 1.9),
               (2.93, 2.0), (3.13, 1.9), (3.34, 2.0), (3.54, 1.9), (3.75, 2.0), (3.95, 1.9),
               (4.16, 2.0), (4.36, 1.9), (4.57, 2.0), (4.77, 1.9), (4.98, 2.0), (5.18, 1.9),
               (0.50, 1.3), (0.70, 1.2), (0.91, 1.3), (1.11, 1.2), (1.32, 1.3), (1.52, 1.2),
               (1.73, 1.3), (1.93, 1.2), (2.14, 1.3), (2.34, 1.2), (2.55, 1.3), (2.75, 1.2),
               (2.96, 1.3), (3.16, 1.2), (3.37, 1.3), (3.57, 1.2), (3.78, 1.3), (3.98, 1.2),
               (4.19, 1.3), (4.39, 1.2), (4.60, 1.3), (4.80, 1.2), (5.01, 1.3),
               (0.70, 0.6), (0.91, 0.7), (1.11, 0.6), (1.32, 0.7), (1.52, 0.6), (1.73, 0.7),
               (1.93, 0.6), (2.14, 0.7), (2.34, 0.6), (2.55, 0.7), (2.75, 0.6), (2.96, 0.7),
               (3.16, 0.6), (3.37, 0.7), (3.57, 0.6), (3.78, 0.7), (3.98, 0.6), (4.19, 0.7),
               (4.39, 0.6), (4.60, 0.7)]
d_high = [(8.0, 0.9), (8.2, 0.6), (8.4, 1.0), (8.6, 0.7), (8.8, 0.8), (9.0, 0.9), (9.15, 0.8),
          (17.0, 0.2), (17.15, 0.2), (17.3, 0.2), (17.45, 0.2), (17.6, 0.2), (17.75, 0.2),
          (17.9, 0.2)]

panel_tags = ['(a)', '(b)', '(c)', '(d)']
x_limits = [(-0.75, 20), (0, 20), (-0.2, 20), (-0.3, 20)]
y_limits = [(-20, 30), (0, 30), (-20, 30), (-20, 30)]
tag_pos = [(1.6, 21.9), (1.35, 25.7), (1.75, 20.8), (1.3, 21.6)]

panels = [a_spike + a_neg + a_left + a_body + a_body_fill + a_band + a_band_fill + a_high,
          b_spike + b_body + b_body_fill + b_high,
          c_spike + c_body + c_body_fill + c_high,
          d_spike + d_body + d_body_fill + d_high]

W, H = 1117, 805
fig = plt.figure(figsize=(W / 100, H / 100), dpi=100)
boxes = [(107, 18, 555, 333), (645, 18, 1093, 333),
         (110, 397, 555, 712), (645, 397, 1093, 712)]

for i, (l, t, r, b) in enumerate(boxes):
    ax = fig.add_axes([l / W, 1 - b / H, (r - l) / W, (b - t) / H])
    freq = [p[0] for p in panels[i]]
    gamma = [p[1] for p in panels[i]]
    ax.plot(freq, gamma, 'o', ms=12.8, mfc='none', mec='black', mew=1.6,
            clip_on=False, zorder=3)
    ax.set_xlim(*x_limits[i])
    ax.set_ylim(*y_limits[i])
    ax.xaxis.set_major_locator(MultipleLocator(5))
    ax.xaxis.set_minor_locator(MultipleLocator(2.5))
    ax.yaxis.set_major_locator(MultipleLocator(10))
    ax.yaxis.set_minor_locator(MultipleLocator(5))
    ax.tick_params(which='both', direction='in', top=True, right=True,
                   width=1.5, labelsize=19)
    ax.tick_params(which='major', length=13)
    ax.tick_params(which='minor', length=6.5)
    ax.tick_params(axis='x', pad=9)
    ax.tick_params(axis='y', pad=6)
    for sp in ax.spines.values():
        sp.set_linewidth(1.5)
    ax.text(tag_pos[i][0], tag_pos[i][1], panel_tags[i], fontsize=23,
            ha='left', va='center')

fig.text(570 / W, 1 - 780 / H, 'Frequency (THZ)', fontsize=24, ha='center', va='center')
fig.text(27 / W, 1 - 360 / H, 'Gruneisen parameter', fontsize=25, rotation=90,
         ha='center', va='center')

fig.savefig('out.png', dpi=100)
